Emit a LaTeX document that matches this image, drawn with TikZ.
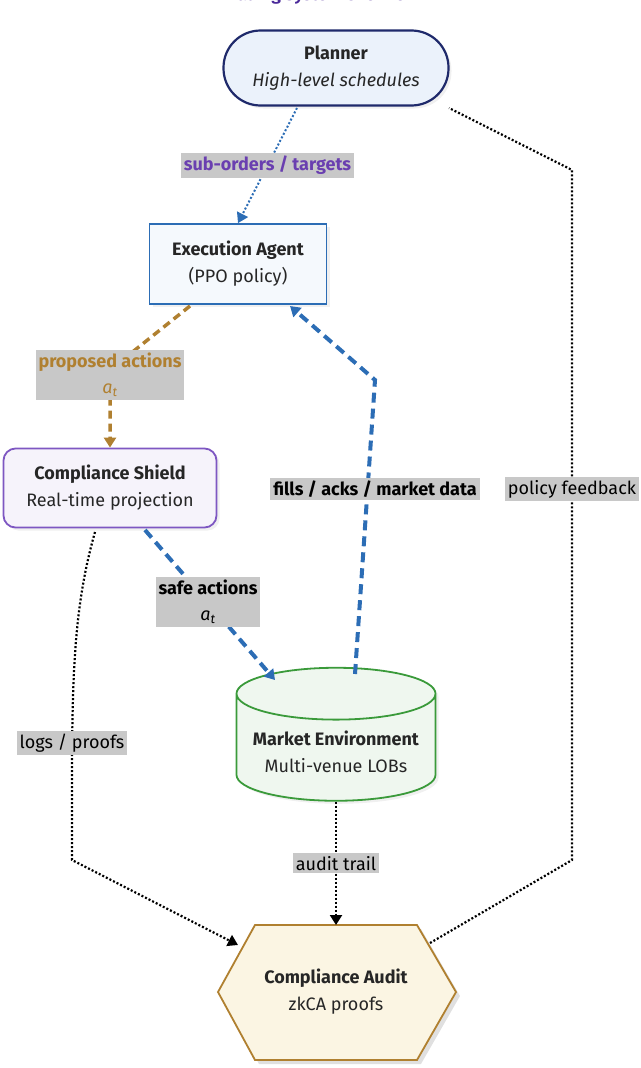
\documentclass[tikz,border=0pt]{standalone}
\usepackage{fontspec}
\setmainfont{Fira Sans}
\usetikzlibrary{arrows.meta,shapes.geometric,shadows,positioning}
\definecolor{navy}{HTML}{1F2A6B}
\definecolor{planfill}{HTML}{EBF2FB}
\definecolor{agentblue}{HTML}{2C6DB5}
\definecolor{agentfill}{HTML}{F5F9FD}
\definecolor{shieldpurple}{HTML}{7E57C2}
\definecolor{shieldfill}{HTML}{F6F3FB}
\definecolor{mktgreen}{HTML}{3A9A3A}
\definecolor{mktfill}{HTML}{EFF7EF}
\definecolor{gold}{HTML}{B08030}
\definecolor{auditfill}{HTML}{FBF5E3}
\definecolor{lblgray}{HTML}{C8C8C8}
\definecolor{titlepurple}{HTML}{4B2A9A}
\definecolor{subpurple}{HTML}{6A3FB0}
\newcommand{\at}{\textit{a}\textsubscript{\textit{t}}}
\tikzset{
  box/.style={align=center,font=\fontsize{18}{27}\selectfont,text=black!85,
    drop shadow={opacity=0.12,shadow xshift=3pt,shadow yshift=-3pt}},
  lbl/.style={fill=lblgray,align=center,font=\fontsize{18}{26}\selectfont,inner sep=3pt},
  tip/.style={-{Triangle[length=10pt,width=12pt]}},
  dots/.style={dash pattern=on 2pt off 2pt,line width=2.2pt},
  bigdash/.style={dash pattern=on 10pt off 6pt,line width=4pt,agentblue}
}
\begin{document}
\begin{tikzpicture}[x=1pt,y=-1pt]
\useasboundingbox (0,0) rectangle (640,1068);
\node[font=\fontsize{17}{18}\bfseries\selectfont,text=titlepurple] (title) at (320,-5) {Trading System Overview};

\node[box,rounded corners=37pt,draw=navy,line width=2.2pt,fill=planfill,minimum width=225pt,minimum height=75pt] (planner) at (336,68) {\textbf{Planner}\\\textit{High-level schedules}};
\node[box,draw=agentblue,line width=1.8pt,fill=agentfill,minimum width=177pt,minimum height=80pt] (agent) at (238,264) {\textbf{Execution Agent}\\(PPO policy)};
\node[box,rounded corners=12pt,draw=shieldpurple,line width=1.8pt,fill=shieldfill,minimum width=213pt,minimum height=79pt] (shield) at (110,488) {\textbf{Compliance Shield}\\Real-time projection};
\node[box,cylinder,shape border rotate=90,aspect=0.3,draw=mktgreen,line width=1.8pt,fill=mktfill,minimum width=199pt,minimum height=133pt] (market) at (336,751) {\phantom{\textbf{Market Environment}}\\\phantom{Multi-venue LOBs}};
\node[align=center,font=\fontsize{18}{27}\selectfont,text=black!85] (markettext) at (336,752) {\textbf{Market Environment}\\Multi-venue LOBs};
% hexagon drawn around the audit node
\fill[black!12] (259,929) -- (421,929) -- (460,996) -- (421,1064) -- (259,1064) -- (222,996) -- cycle;
\filldraw[draw=gold,line width=1.8pt,fill=auditfill] (255,925) -- (417,925) -- (456,992) -- (417,1060) -- (255,1060) -- (218,992) -- cycle;
\node[align=center,font=\fontsize{18}{27}\selectfont,text=black!85] (audit) at (336,992) {\textbf{Compliance Audit}\\zkCA proofs};
\coordinate (auditN) at (336,925);
\coordinate (auditNW) at (238,945);
\coordinate (auditNE) at (430,943);

\draw[dots,agentblue,line width=2pt,tip] (297,108) -- node[lbl,text=subpurple,font=\fontsize{18}{26}\bfseries\selectfont] {sub-orders / targets} (agent.north);
\draw[gold,dash pattern=on 8pt off 5pt,line width=3.5pt,tip] (190,306) -- (110,370) -- (shield.north);
\node[lbl,text=gold] (proposed) at (110,375) {\textbf{proposed actions}\\\at};
\draw[bigdash,tip] (145,530) -- (275,680);
\node[lbl] (safe) at (208,602) {\textbf{safe actions}\\\at};
\draw[bigdash,tip] (355,674) -- (375,380) -- (290,306);
\node[lbl] (fills) at (375,489) {\textbf{fills / acks / market data}};
\draw[dots,tip] (95,532) .. controls (70,620) and (72,700) .. (72,860) -- (auditNW);
\node[lbl] (logs) at (72,743) {logs / proofs};
\draw[dots,tip] (market.bottom) -- node[lbl] {audit trail} (auditN);
\draw[dots] (auditNE) -- (572,860) -- (572,170) -- (449,108);
\node[lbl] (feedback) at (572,489) {policy feedback};
\end{tikzpicture}
\end{document}
